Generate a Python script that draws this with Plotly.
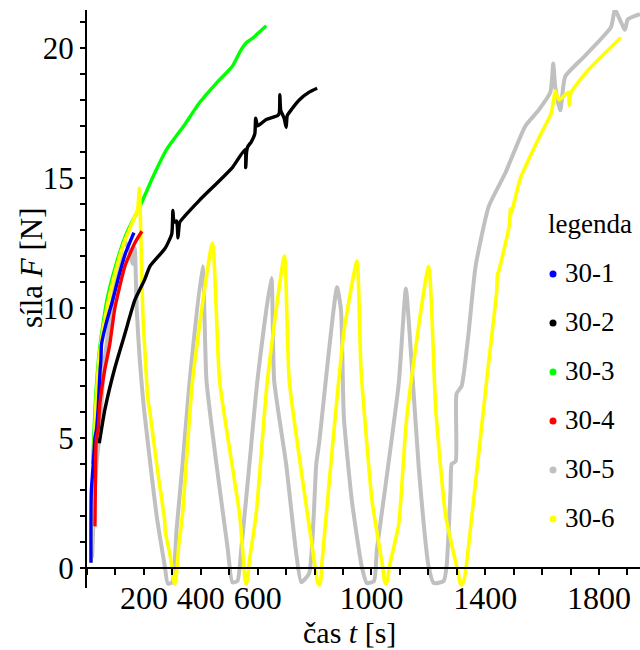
import plotly.graph_objects as go

# ---------------- data ----------------
t30_1 = [14, 15, 22, 28, 33, 39, 46, 49, 51, 65, 80, 88, 109, 135, 165]
f30_1 = [0.2, 2.9, 4.0, 5.0, 5.3, 6.1, 7.6, 8.0, 8.6, 9.3, 9.9, 10.2, 11.1, 12.1, 12.9]

t30_2 = [43, 63, 98, 133, 168, 203, 221, 275, 298, 302, 306, 315, 320, 326, 345, 396, 511,
         556, 558, 561, 565, 578, 590, 593, 600, 630, 670, 676, 678, 681, 693, 700, 704, 720,
         746, 781, 809]
f30_2 = [4.8, 6.1, 7.7, 9.0, 10.3, 11.1, 11.6, 12.3, 12.85, 13.75, 13.3, 13.35, 12.7, 13.3,
         13.55, 14.15, 15.4, 16.1, 15.4, 16.0, 16.2, 16.4, 16.7, 17.3, 17.0, 17.25, 17.4, 17.5,
         18.2, 17.6, 17.3, 16.95, 17.4, 17.65, 18.0, 18.3, 18.45]

t30_3 = [20, 30, 45, 70, 100, 140, 186, 230, 280, 340, 396, 455, 511, 540, 560, 585, 630]
f30_3 = [4.0, 6.5, 8.5, 10.3, 11.6, 12.9, 13.9, 15.0, 16.1, 17.0, 17.9, 18.65, 19.3, 19.9,
         20.2, 20.4, 20.85]

t30_4 = [28, 30, 33, 39, 45, 62, 80, 98, 133, 168, 193]
f30_4 = [1.6, 4.0, 5.0, 5.3, 6.3, 7.6, 8.6, 10.0, 11.6, 12.5, 12.95]

t30_5 = [18, 25, 32, 45, 60, 90, 115, 130, 150, 161, 168, 175, 197, 245, 273, 284, 300, 315,
         336, 361, 406, 420, 455, 494, 511, 529, 543, 571, 599, 648, 658, 700, 735, 753, 781,
         806, 816, 879, 893, 903, 931, 966, 984, 1009, 1019, 1051, 1096, 1121, 1138, 1166,
         1201, 1219, 1254, 1264, 1278, 1282, 1296, 1299, 1317, 1341, 1366, 1412, 1471, 1541,
         1587, 1629, 1639, 1646, 1664, 1681, 1751, 1842, 1856, 1891, 1901, 1944]
f30_5 = [0.4, 2.5, 3.8, 5.3, 7.8, 10.3, 11.8, 12.6, 12.2, 11.7, 12.3, 9.9, 6.5, 2.0, 0.1,
         -0.6, -0.55, 1.5, 4.0, 7.2, 11.6, 7.2, 4.0, 0.8, -0.55, -0.5, 0.8, 4.0, 7.2, 11.15,
         7.2, 4.0, 0.6, -0.55, -0.2, 4.0, 4.8, 10.8, 9.9, 5.8, 2.6, 0.05, -0.58, -0.5, 0.7,
         3.3, 7.1, 10.75, 8.4, 3.9, 0.05, -0.58, -0.5, 0.05, 3.0, 4.0, 4.1, 6.7, 7.0, 9.0,
         11.6, 13.9, 15.2, 17.0, 17.6, 18.3, 19.4, 18.5, 17.6, 18.9, 19.7, 20.8, 21.46, 20.7,
         21.1, 21.3]

t30_6 = [14, 22, 30, 45, 70, 100, 130, 160, 178, 184, 190, 196, 214, 221, 250, 273, 275,
         290, 301, 305, 308, 312, 316, 322, 336, 371, 441, 466, 536, 550, 555, 560, 565, 570,
         595, 634, 694, 711, 792, 805, 811, 816, 821, 826, 876, 904, 949, 963, 1002, 1040,
         1046, 1051, 1056, 1062, 1096, 1124, 1201, 1226, 1261, 1305, 1311, 1317, 1323, 1330,
         1366, 1412, 1440, 1443, 1447, 1485, 1488, 1490, 1524, 1587, 1632, 1639, 1646, 1660,
         1692, 1695, 1702, 1762, 1877]
f30_6 = [0.2, 3.5, 6.0, 8.3, 10.0, 11.4, 12.5, 13.3, 13.8, 14.6, 12.5, 9.9, 6.5, 6.0, 3.6,
         1.85, 1.4, 0.6, -0.1, -0.5, -0.62, -0.5, -0.1, 0.8, 2.1, 7.2, 12.5, 7.2, 2.1, 0.3,
         -0.4, -0.62, -0.4, 0.2, 2.1, 7.2, 12.0, 7.2, 0.8, -0.2, -0.55, -0.65, -0.55, 0.2, 6.2,
         9.15, 11.8, 7.7, 2.6, 0.0, -0.5, -0.6, -0.5, 0.0, 1.7, 5.8, 11.6, 6.1, 2.0, -0.2,
         -0.55, -0.65, -0.55, -0.2, 3.3, 7.9, 10.6, 11.3, 11.4, 13.2, 13.8, 13.6, 15.0, 16.5,
         17.5, 17.9, 18.35, 18.0, 18.3, 17.8, 18.3, 19.15, 20.4]

legend_names = ["30-1", "30-2", "30-3", "30-4", "30-5", "30-6"]
legend_colors = ["#0000FF", "#000000", "#00FF00", "#FF0000", "#C0C0C0", "#FFFF00"]

x_tickvals = [200, 400, 600, 1000, 1400, 1800]
x_ticktext = ["200", "400", "600", "1000", "1400", "1800"]
y_tickvals = [0, 5, 10, 15, 20]

# ---------------- figure ----------------
X_RANGE = [0, 1944]
Y_RANGE = [-0.77, 21.46]
SERIF = "Liberation Serif, Times New Roman, Times, serif"

series = {
    "30-1": (t30_1, f30_1),
    "30-2": (t30_2, f30_2),
    "30-3": (t30_3, f30_3),
    "30-4": (t30_4, f30_4),
    "30-5": (t30_5, f30_5),
    "30-6": (t30_6, f30_6),
}
color_of = dict(zip(legend_names, legend_colors))
draw_order = ["30-5", "30-3", "30-6", "30-2", "30-1", "30-4"]
widths = {"30-5": 4.0, "30-6": 3.6}

fig = go.Figure()
for name in draw_order:
    xs, ys = series[name]
    fig.add_trace(go.Scatter(x=xs, y=ys, mode="lines", name=name, showlegend=False,
                             line=dict(color=color_of[name], width=widths.get(name, 3.4),
                                       shape="spline", smoothing=0.5)))

# plot area in pixels
L, R, T, B = 87, 640, 10, 588
PW, PH = R - L, B - T


def px(xp):
    return (xp - L) / PW


def py(yp):
    return (B - yp) / PH


annotations = []
shapes = []
# legend (manual, like the reference)
annotations.append(dict(text="legenda", xref="paper", yref="paper", x=px(546), y=py(224),
                        xanchor="left", yanchor="middle", showarrow=False,
                        font=dict(family=SERIF, size=27, color="black")))
row0, gap = 273, 49
for i, (nm, col) in enumerate(zip(legend_names, legend_colors)):
    yc = row0 + gap * i
    annotations.append(dict(text=nm, xref="paper", yref="paper", x=px(563), y=py(yc),
                            xanchor="left", yanchor="middle", showarrow=False,
                            font=dict(family=SERIF, size=27, color="black")))
    r = 3.5
    shapes.append(dict(type="circle", xref="paper", yref="paper",
                       x0=px(553 - r), x1=px(553 + r), y0=py(yc + 1 + r), y1=py(yc + 1 - r),
                       fillcolor=col, line=dict(width=0)))

# axis titles
annotations.append(dict(text="síla <i>F</i> [N]", xref="paper", yref="paper",
                        x=px(31), y=py(268), textangle=-90, xanchor="center",
                        yanchor="middle", showarrow=False,
                        font=dict(family=SERIF, size=31, color="black")))
annotations.append(dict(text="čas <i>t</i> [s]", xref="paper", yref="paper",
                        x=px(349), y=py(632), xanchor="center", yanchor="middle",
                        showarrow=False, font=dict(family=SERIF, size=30, color="black")))

x_pos = (0 - Y_RANGE[0]) / (Y_RANGE[1] - Y_RANGE[0])

fig.update_layout(
    width=640, height=650,
    margin=dict(l=L, r=640 - R, t=T, b=650 - B, pad=0),
    plot_bgcolor="white", paper_bgcolor="white",
    showlegend=False,
    annotations=annotations, shapes=shapes,
    xaxis=dict(range=X_RANGE, anchor="free", position=x_pos, showgrid=False, zeroline=False,
               showline=True, linecolor="black", linewidth=2,
               tickmode="array", tickvals=x_tickvals, ticktext=x_ticktext,
               ticks="outside", ticklen=6, tickwidth=1.5, tickcolor="black",
               ticklabelstandoff=-4,
               minor=dict(tickmode="linear", tick0=0, dtick=100, ticks="outside",
                          ticklen=6, tickwidth=1.5, tickcolor="black", showgrid=False),
               tickfont=dict(family=SERIF, size=32, color="black")),
    yaxis=dict(range=Y_RANGE, showgrid=False, zeroline=False,
               showline=True, linecolor="black", linewidth=2,
               tickmode="array", tickvals=y_tickvals,
               ticks="outside", ticklen=5, tickwidth=1.5, tickcolor="black",
               minor=dict(tickmode="linear", tick0=0, dtick=1, ticks="outside",
                          ticklen=5, tickwidth=1.5, tickcolor="black", showgrid=False),
               tickfont=dict(family=SERIF, size=31, color="black")),
)

fig.write_html("out.html")
